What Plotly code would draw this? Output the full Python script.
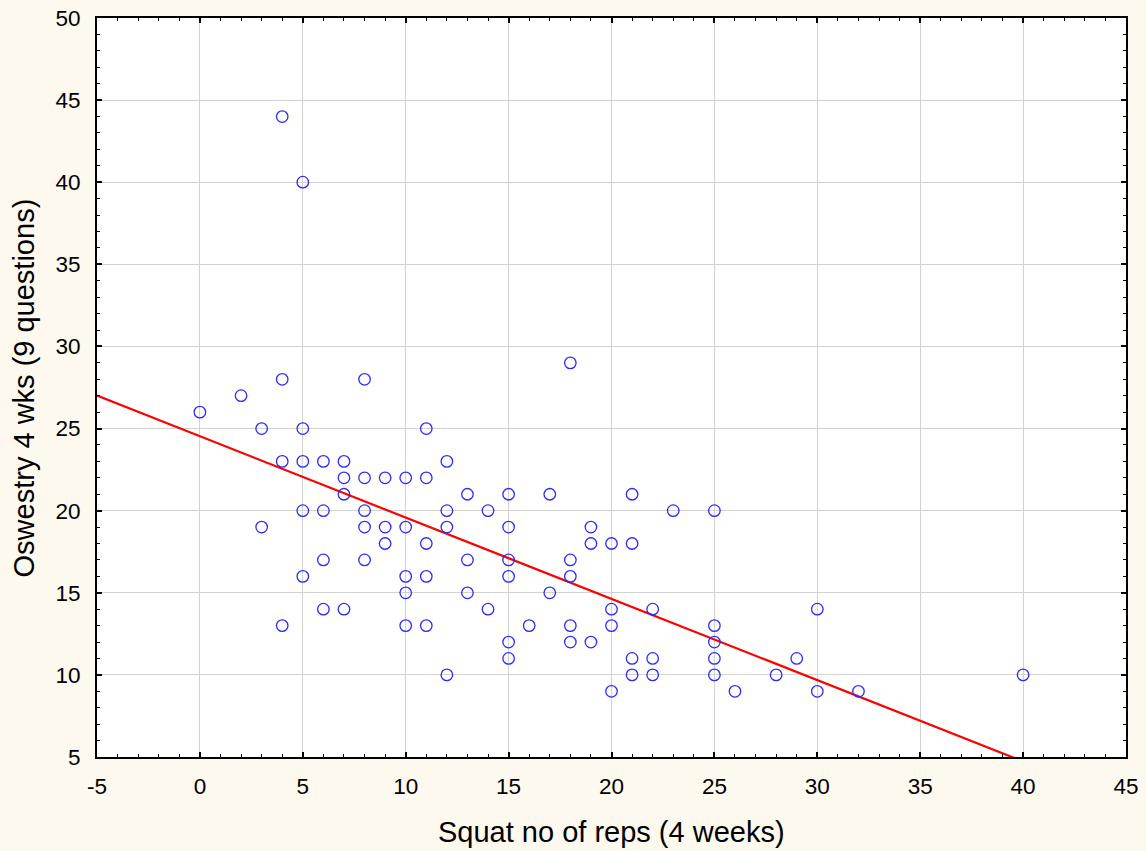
import plotly.graph_objects as go

# Squat no of reps (4 weeks)
squat_reps = [4, 5, 0, 2, 4, 8, 18, 3, 5, 11,
              4, 5, 6, 7, 12, 7, 8, 9, 10, 11,
              7, 13, 15, 17, 21, 5, 6, 8, 12, 14,
              23, 25, 3, 8, 9, 10, 12, 15, 19, 9,
              11, 19, 20, 21, 6, 8, 13, 15, 18, 5,
              10, 11, 15, 18, 10, 13, 17, 6, 7, 14,
              20, 22, 30, 4, 10, 11, 16, 18, 20, 25,
              15, 18, 19, 25, 15, 21, 22, 25, 29, 12,
              21, 22, 25, 28, 40, 20, 26, 30, 32]
# Oswestry 4 wks (9 questions)
oswestry = [44, 40, 26, 27, 28, 28, 29, 25, 25, 25,
            23, 23, 23, 23, 23, 22, 22, 22, 22, 22,
            21, 21, 21, 21, 21, 20, 20, 20, 20, 20,
            20, 20, 19, 19, 19, 19, 19, 19, 19, 18,
            18, 18, 18, 18, 17, 17, 17, 17, 17, 16,
            16, 16, 16, 16, 15, 15, 15, 14, 14, 14,
            14, 14, 14, 13, 13, 13, 13, 13, 13, 13,
            12, 12, 12, 12, 11, 11, 11, 11, 11, 10,
            10, 10, 10, 10, 10, 9, 9, 9, 9]

# Linear regression line as shown in the chart
fit_intercept = 24.53
fit_slope = -0.495

x_range = [-5, 45]
y_range = [5, 50]
x_ticks = [-5, 0, 5, 10, 15, 20, 25, 30, 35, 40, 45]
y_ticks = [5, 10, 15, 20, 25, 30, 35, 40, 45, 50]

fit_x = [x_range[0], x_range[1]]
fit_y = [fit_intercept + fit_slope * v for v in fit_x]

fig = go.Figure()
fig.add_trace(go.Scatter(
    x=fit_x, y=fit_y, mode="lines",
    line=dict(color="#FF0000", width=2.2),
    hoverinfo="skip", showlegend=False,
))
fig.add_trace(go.Scatter(
    x=squat_reps, y=oswestry, mode="markers",
    marker=dict(symbol="circle-open", size=11.5, color="#2B2BFF",
                line=dict(width=1.3, color="#2B2BFF")),
    showlegend=False,
))

axis_common = dict(
    automargin=False,
    showline=True, linecolor="black", linewidth=2, mirror="allticks",
    showgrid=True, gridcolor="#D2D2D2", gridwidth=1,
    zeroline=False,
    ticks="inside", ticklen=5, tickwidth=1.5, tickcolor="black",
    minor=dict(ticks="inside", ticklen=3, tickwidth=1.2, tickcolor="black",
               dtick=1, showgrid=False),
    tickfont=dict(family="Liberation Sans, Arial, sans-serif", size=22.5,
                  color="black"),
)

fig.update_xaxes(range=x_range, tickmode="array", tickvals=x_ticks,
                 ticktext=[str(v) for v in x_ticks],
                 ticklabelstandoff=8, **axis_common)
fig.update_yaxes(range=y_range, tickmode="array", tickvals=y_ticks,
                 ticktext=[str(v) for v in y_ticks],
                 ticklabelstandoff=10, **axis_common)

fig.update_layout(
    width=1146, height=851,
    margin=dict(l=97, r=20, t=18, b=94),
    paper_bgcolor="#FDF9EE",
    plot_bgcolor="white",
    annotations=[
        dict(text="Squat no of reps (4 weeks)", xref="paper", yref="paper",
             x=0.5, y=-0.102, xanchor="center", yanchor="middle",
             showarrow=False,
             font=dict(family="Liberation Sans, Arial, sans-serif", size=29,
                       color="black")),
        dict(text="Oswestry 4 wks (9 questions)", xref="paper", yref="paper",
             x=-0.071, y=0.5, xanchor="center", yanchor="middle",
             textangle=-90, showarrow=False,
             font=dict(family="Liberation Sans, Arial, sans-serif", size=29,
                       color="black")),
    ],
)

fig.write_html("out.html")
